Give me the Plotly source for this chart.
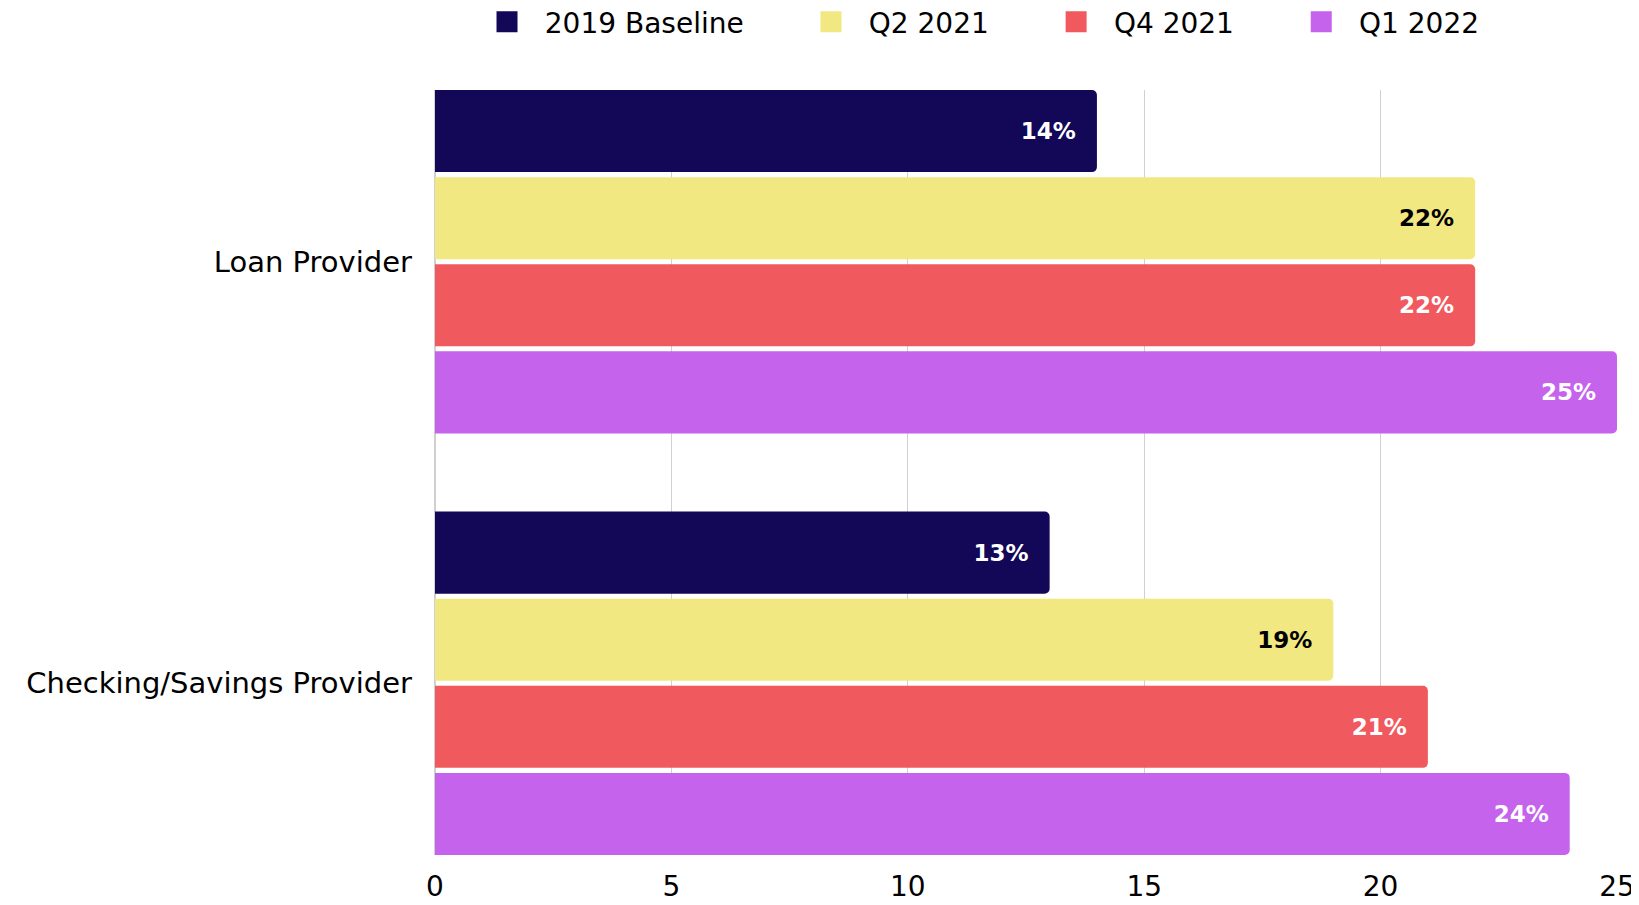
import plotly.graph_objects as go

categories = ["Loan Provider", "Checking/Savings Provider"]
series_names = ["2019 Baseline", "Q2 2021", "Q4 2021", "Q1 2022"]
values_2019 = [14, 13]
values_q2_2021 = [22, 19]
values_q4_2021 = [22, 21]
values_q1_2022 = [25, 24]
colors = ["#130758", "#F2E882", "#F05A5E", "#C563EC"]
text_colors = ["white", "black", "white", "white"]
x_ticks = [0, 5, 10, 15, 20, 25]

FONT = "DejaVu Sans"
all_values = [values_2019, values_q2_2021, values_q4_2021, values_q1_2022]

# The page has an 8px body margin, so the figure is sized to fill the window exactly.
W, H = 1631, 897
M_L, M_R, M_T, M_B = 427, 22, 0, 50
plot_top = 82  # in figure pixels
paper_h = H - M_T - M_B

fig = go.Figure()
for name, vals, col, tcol in zip(series_names, all_values, colors, text_colors):
    fig.add_trace(go.Bar(
        name=name, y=categories, x=vals, orientation="h",
        marker=dict(color=col, cornerradius=5, line=dict(width=0)),
        text=[f"{v}%" for v in vals], texttemplate="%{text}  ",
        textposition="inside", insidetextanchor="end",
        textfont=dict(family=FONT, size=23, color=tcol, weight="bold"),
        showlegend=False, cliponaxis=False,
    ))
    fig.add_trace(go.Scatter(
        name="  " + name + "       ", x=[None], y=[None], mode="markers",
        marker=dict(symbol="square", size=16, color=col, line=dict(color=col, width=5)),
        showlegend=True,
    ))

fig.update_layout(
    width=W, height=H,
    barmode="group", bargap=0.1734, bargroupgap=0.0575,
    plot_bgcolor="white", paper_bgcolor="white",
    margin=dict(l=M_L, r=M_R, t=M_T, b=M_B, autoexpand=False),
    font=dict(family=FONT, size=28, color="black"),
    legend=dict(orientation="h", x=0.044, xanchor="left",
                y=1 - 14 / paper_h, yanchor="middle",
                font=dict(family=FONT, size=28, color="black")),
    xaxis=dict(range=[0, 25], tickvals=x_ticks, showgrid=True, gridcolor="#D0D0D0",
               gridwidth=1, zeroline=True, zerolinecolor="#D0D0D0", showline=False,
               ticks="", automargin=False, ticklabelstandoff=12, tickfont=dict(size=28)),
    yaxis=dict(range=[1.4074, -0.4074], domain=[0, (paper_h - plot_top) / paper_h],
               showgrid=False, ticks="", automargin=False, ticklabelstandoff=22,
               tickfont=dict(size=29)),
)
fig.write_html("out.html")
